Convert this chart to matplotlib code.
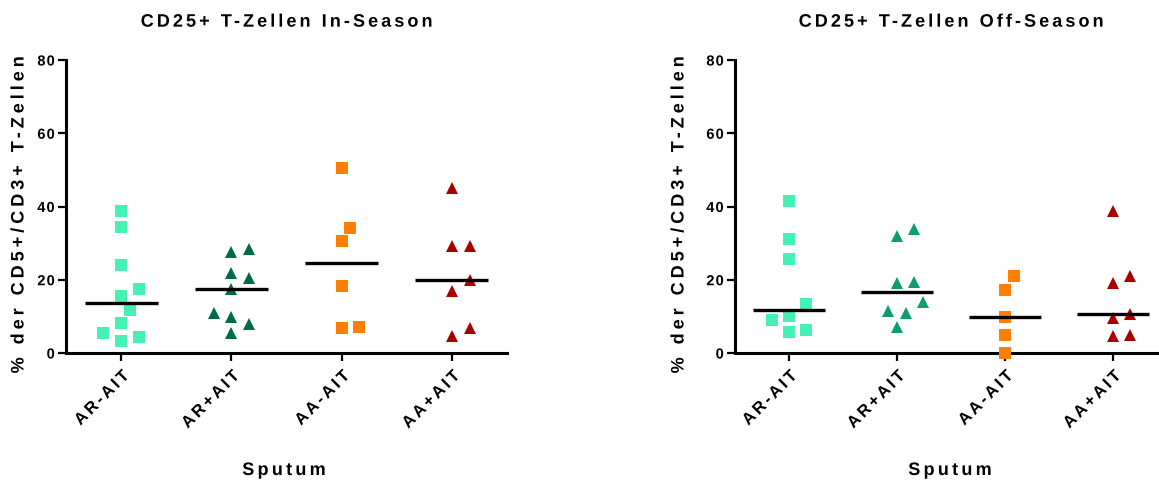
import numpy as np
import matplotlib
matplotlib.use("Agg")
import matplotlib.pyplot as plt
from matplotlib import _text_helpers
from matplotlib.path import Path
from matplotlib.patheffects import AbstractPathEffect
from matplotlib.textpath import text_to_path

plt.rcParams['font.family'] = ['Liberation Sans', 'DejaVu Sans']
plt.rcParams['font.weight'] = 'bold'

# ---- data -------------------------------------------------------------
groups = ["AR-AIT", "AR+AIT", "AA-AIT", "AA+AIT"]

in_ar_minus = [38.8, 34.3, 24.1, 17.5, 15.5, 11.8, 8.2, 5.5, 4.3, 3.2]
in_ar_plus = [28.5, 27.7, 21.8, 20.5, 17.5, 10.9, 9.8, 7.8, 5.5]
in_aa_minus = [50.5, 34.2, 30.6, 18.4, 7.0, 6.8]
in_aa_plus = [45.0, 29.3, 29.3, 19.8, 16.8, 6.8, 4.6]

off_ar_minus = [41.4, 31.2, 25.8, 13.3, 10.2, 9.0, 6.3, 5.7]
off_ar_plus = [33.8, 31.9, 19.5, 19.1, 14.0, 11.6, 10.9, 7.1]
off_aa_minus = [21.1, 17.2, 9.8, 4.8, 0.0]
off_aa_plus = [38.9, 21.0, 19.1, 10.6, 9.5, 4.9, 4.6]

in_season = [in_ar_minus, in_ar_plus, in_aa_minus, in_aa_plus]
off_season = [off_ar_minus, off_ar_plus, off_aa_minus, off_aa_plus]

yticks = [0, 20, 40, 60, 80]

# ---- styles ----------------------------------------------------------
markers = ['s', '^', 's', '^']
colors_in = ['#45F2B4', '#016B46', '#FF8000', '#A80000']
colors_off = ['#45F2B4', '#0E9E6C', '#FF8000', '#A80000']


class Tracking(AbstractPathEffect):
    """Draw a text with extra letter spacing (given in em)."""

    def __init__(self, text, em):
        super().__init__()
        self._text = text
        self._em = em

    def draw_path(self, renderer, gc, tpath, affine, rgbFace=None):
        s = self._text.get_text()
        prop = self._text.get_fontproperties()
        font = text_to_path._get_font(prop)
        font.set_size(text_to_path.FONT_SCALE, text_to_path.DPI)
        starts = np.array([it.x for it in _text_helpers.layout(s, font)])
        step = self._em * text_to_path.FONT_SCALE
        verts = np.array(tpath.vertices, dtype=float)
        codes = tpath.codes
        if codes is not None and len(starts):
            heads = list(np.flatnonzero(codes == Path.MOVETO)) + [len(verts)]
            for a, b in zip(heads[:-1], heads[1:]):
                seg = verts[a:b]
                keep = codes[a:b] != Path.CLOSEPOLY
                if not keep.any():
                    continue
                xs = seg[keep, 0]
                cx = 0.5 * (xs.min() + xs.max())
                gi = max(int(np.searchsorted(starts, cx, side='right')) - 1, 0)
                verts[a:b, 0] += gi * step
        extra = (len(s) - 1) * step
        ha = self._text.get_horizontalalignment()
        verts[:, 0] += {'left': 0.0, 'center': -extra / 2,
                        'right': -extra}.get(ha, 0.0)
        renderer.draw_path(gc, Path(verts, codes), affine, rgbFace)


def track(text, em):
    text.set_path_effects([Tracking(text, em)])
    return text


def swarm_offsets(vals, half_step, dx_unit, dy_unit):
    """Greedy dot-plot layout: each point takes the slot nearest the
    centre that does not overlap the points already placed."""
    order = np.argsort(vals)
    placed = []
    offs = np.zeros(len(vals))
    cands = [0]
    for s in range(1, 8):
        cands += [s, -s]
    for idx in order:
        v = vals[idx]
        x = 0.0
        for c in cands:
            x = c * half_step
            ok = True
            for (px, pv) in placed:
                ex = (x - px) / dx_unit
                ey = (v - pv) / dy_unit
                if ex * ex + ey * ey < 0.999:
                    ok = False
                    break
            if ok:
                break
        offs[idx] = x
        placed.append((x, v))
    return offs


W, H = 1159, 481
fig = plt.figure(figsize=(W / 100, H / 100), dpi=100)


def draw_panel(ax, data, colors, title):
    for i, vals in enumerate(data):
        vals = np.asarray(vals, dtype=float)
        offs = swarm_offsets(vals, 0.08, 0.16, 4.0)
        ax.plot(i + offs, vals, linestyle='none', marker=markers[i],
                markersize=9.2, color=colors[i], markeredgewidth=0,
                clip_on=False, zorder=3)
        med = np.median(vals)
        ax.hlines(med, i - 0.33, i + 0.33, colors='black', linewidth=2.4,
                  zorder=4)
    ax.set_xlim(-0.5, 3.5)
    ax.set_ylim(0, 80)
    ax.set_yticks(yticks)
    ax.set_yticklabels([str(t) for t in yticks], fontsize=10.5,
                       fontweight='bold')
    ax.set_xticks(range(len(groups)))
    ax.set_xticklabels(groups, rotation=45, ha='right', va='top',
                       rotation_mode='anchor', fontsize=12,
                       fontweight='bold')
    for s in ['top', 'right']:
        ax.spines[s].set_visible(False)
    for s in ['left', 'bottom']:
        ax.spines[s].set_linewidth(2.2)
    ax.tick_params(axis='both', direction='out', length=6, width=1.6,
                   color='black')
    ax.tick_params(axis='x', pad=5)
    ax.tick_params(axis='y', pad=2)
    t = ax.set_title(title, fontsize=13, fontweight='bold', pad=24)
    track(t, 0.17)
    for lab in ax.get_xticklabels():
        track(lab, 0.16)
    for lab in ax.get_yticklabels():
        track(lab, 0.08)


ax1 = fig.add_axes([66 / W, 127 / H, 441 / W, 293 / H])
ax2 = fig.add_axes([735 / W, 127 / H, 432 / W, 293 / H])

draw_panel(ax1, in_season, colors_in, "CD25+ T-Zellen In-Season")
draw_panel(ax2, off_season, colors_off, "CD25+ T-Zellen Off-Season")

ylabel = "% der CD5+/CD3+ T-Zellen"
for xpix in (19, 679):
    track(fig.text(xpix / W, 1 - 216 / H, ylabel, rotation=90, ha='center',
                   va='center', fontsize=13, fontweight='bold'), 0.22)
for xpix in (284, 950):
    track(fig.text(xpix / W, 1 - 476 / H, "Sputum", ha='center',
                   va='baseline', fontsize=13, fontweight='bold'), 0.18)

fig.savefig("out.png", dpi=100)
